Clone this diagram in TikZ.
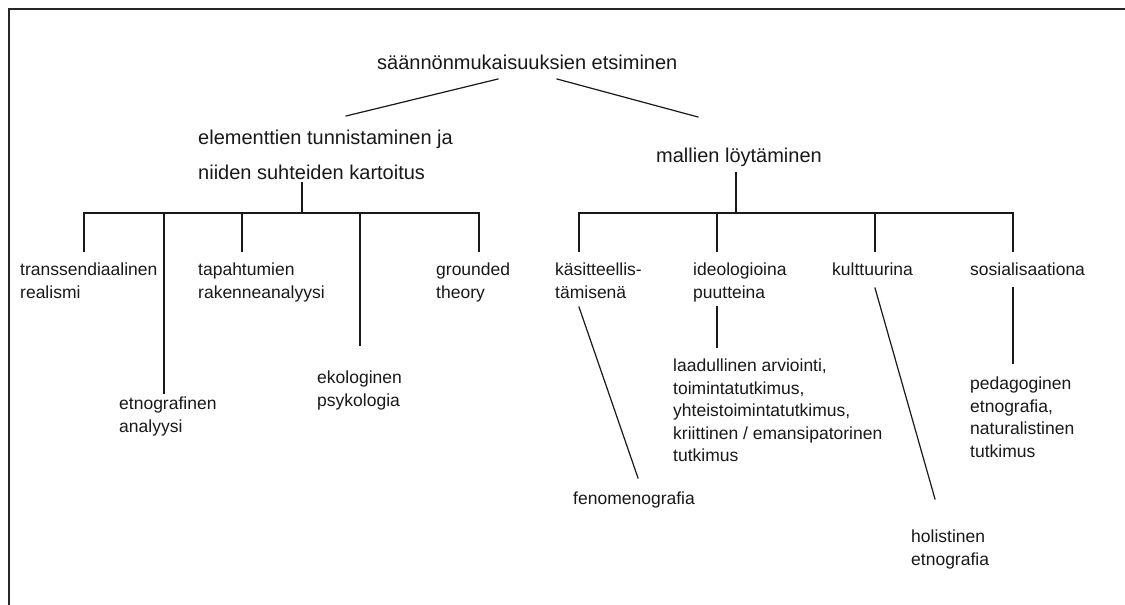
\documentclass[tikz,border=0pt]{standalone}
\usepackage{fontspec}
\setmainfont{Liberation Sans}
\begin{document}
\begin{tikzpicture}[x=1pt,y=-1pt,
  conn/.style={line width=1.2pt, draw=black!90, line cap=rect},
  frame/.style={line width=2pt, draw=black!85},
  toplabel/.style={anchor=north west, inner sep=0pt, align=left, text=black!90,
    font=\fontsize{20}{35}\selectfont},
  label/.style={anchor=north west, inner sep=0pt, align=left, text=black!90,
    font=\fontsize{17.5}{22.5}\selectfont},
]
\useasboundingbox (0,0) rectangle (1125,605);
\fill[white] (0,0) rectangle (1125,605);
% open frame: top and left edges
\draw[frame] (1125,9) -- (9,9) -- (9,605);

% upper levels
\node[toplabel] (root) at (377,55) {säännönmukaisuuksien etsiminen};
\node[toplabel] (elem) at (198,130) {elementtien tunnistaminen ja\\niiden suhteiden kartoitus};
\node[toplabel] (mall) at (656,148) {mallien löytäminen};

% left branch leaves
\node[label] (trans) at (20,263) {transsendiaalinen\\realismi};
\node[label] (etno)  at (119,397) {etnografinen\\analyysi};
\node[label] (tapa)  at (198,263) {tapahtumien\\rakenneanalyysi};
\node[label] (eko)   at (317,371) {ekologinen\\psykologia};
\node[label] (grou)  at (436,263) {grounded\\theory};

% right branch
\node[label] (kasi) at (555,263) {käsitteellis-\\tämisenä};
\node[label] (ideo) at (693,263) {ideologioina\\puutteina};
\node[label] (kult) at (832,263) {kulttuurina};
\node[label] (sosi) at (970,263) {sosialisaationa};

\node[label] (feno) at (573,492) {fenomenografia};
\node[label] (laad) at (673,359) {laadullinen arviointi,\\toimintatutkimus,\\yhteistoimintatutkimus,\\kriittinen / emansipatorinen\\tutkimus};
\node[label] (holi) at (911,530) {holistinen\\etnografia};
\node[label] (peda) at (970,377) {pedagoginen\\etnografia,\\naturalistinen\\tutkimus};

% connector end points
\coordinate (root-l) at (498,79);
\coordinate (root-r) at (557,79);
\coordinate (elem-t) at (346,116);
\coordinate (mall-t) at (698,117);
\coordinate (elem-b) at (302,183);
\coordinate (mall-b) at (736,173);
\coordinate (lbar)   at (302,213);
\coordinate (rbar)   at (736,213);

\coordinate (trans-t) at (84,251);
\coordinate (etno-t)  at (164,393);
\coordinate (tapa-t)  at (242,251);
\coordinate (eko-t)   at (360,345);
\coordinate (grou-t)  at (479,251);

\coordinate (kasi-t) at (579,251);
\coordinate (ideo-t) at (717,251);
\coordinate (kult-t) at (875,251);
\coordinate (sosi-t) at (1013,251);

\coordinate (kasi-b) at (579,307);
\coordinate (ideo-b) at (717,307);
\coordinate (kult-b) at (875,288);
\coordinate (sosi-b) at (1013,288);
\coordinate (feno-t) at (638,478);
\coordinate (laad-t) at (717,347);
\coordinate (holi-t) at (935,499);
\coordinate (peda-t) at (1013,363);

% root to second level
\draw[conn] (root-l) -- (elem-t);
\draw[conn] (root-r) -- (mall-t);

% left tree
\draw[conn] (elem-b) -- (lbar);
\draw[conn] (trans-t |- lbar) -- (grou-t |- lbar);
\draw[conn] (trans-t |- lbar) -- (trans-t);
\draw[conn] (etno-t |- lbar) -- (etno-t);
\draw[conn] (tapa-t |- lbar) -- (tapa-t);
\draw[conn] (eko-t |- lbar) -- (eko-t);
\draw[conn] (grou-t |- lbar) -- (grou-t);

% right tree
\draw[conn] (mall-b) -- (rbar);
\draw[conn] (kasi-t |- rbar) -- (sosi-t |- rbar);
\draw[conn] (kasi-t |- rbar) -- (kasi-t);
\draw[conn] (ideo-t |- rbar) -- (ideo-t);
\draw[conn] (kult-t |- rbar) -- (kult-t);
\draw[conn] (sosi-t |- rbar) -- (sosi-t);

% third level
\draw[conn] (kasi-b) -- (feno-t);
\draw[conn] (ideo-b) -- (laad-t);
\draw[conn] (kult-b) -- (holi-t);
\draw[conn] (sosi-b) -- (peda-t);
\end{tikzpicture}
\end{document}
